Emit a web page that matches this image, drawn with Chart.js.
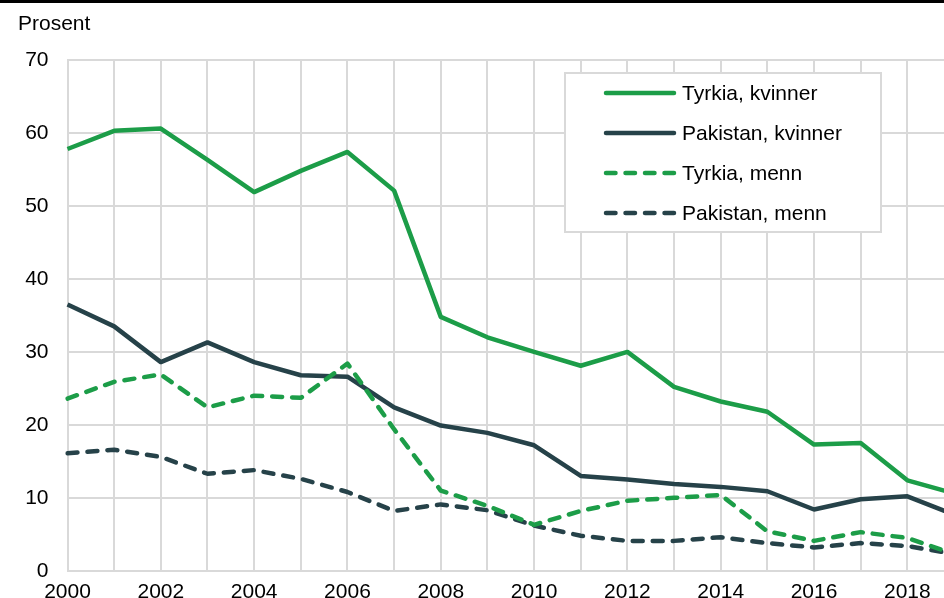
<!DOCTYPE html>
<html>
<head>
<meta charset="utf-8">
<script src="https://cdn.jsdelivr.net/npm/chart.js@4"></script>
<style>
  html, body { margin: 0; padding: 0; background: #fff; overflow: hidden; }
  #wrap { width: 964px; height: 614px; }
</style>
</head>
<body>
<div id="wrap"><canvas id="chart" width="964" height="614"></canvas></div>
<script>
// data
const years = ['2000','2001','2002','2003','2004','2005','2006','2007','2008','2009',
               '2010','2011','2012','2013','2014','2015','2016','2017','2018','2019'];
const tyrkiaKvinner = [57.8, 60.3, 60.6, 56.3, 51.9, 54.8, 57.4, 52.1, 34.8, 32.0,
                       30.0, 28.1, 30.0, 25.2, 23.2, 21.8, 17.3, 17.5, 12.4, 10.6];
const pakistanKvinner = [36.5, 33.5, 28.6, 31.3, 28.6, 26.8, 26.6, 22.4, 19.9, 18.9,
                         17.2, 13.0, 12.5, 11.9, 11.5, 10.9, 8.4, 9.8, 10.2, 7.7];
const tyrkiaMenn = [23.6, 25.9, 26.9, 22.4, 24.0, 23.7, 28.4, 19.4, 11.0, 8.9,
                    6.3, 8.2, 9.6, 10.0, 10.4, 5.4, 4.1, 5.3, 4.5, 2.3];
const pakistanMenn = [16.1, 16.6, 15.6, 13.3, 13.8, 12.6, 10.8, 8.2, 9.1, 8.3,
                      6.2, 4.8, 4.1, 4.1, 4.6, 3.8, 3.2, 3.8, 3.4, 2.3];
const yTicks = [0, 10, 20, 30, 40, 50, 60, 70];

const GREEN = '#1c9d48';
const DARK = '#264249';
const GRID = '#d9d9d9';
const FONT = "'Liberation Sans', Arial, sans-serif";
const DASH = [10, 10];

function line(label, data, color, dashed, order) {
  return {
    label, data, order,
    borderColor: color,
    backgroundColor: color,
    borderWidth: 4.5,
    borderDash: dashed ? DASH : [],
    borderCapStyle: dashed ? 'round' : 'butt',
    borderJoinStyle: 'round',
    pointRadius: 0,
    tension: 0,
    fill: false
  };
}

// legend box + title + top bar
const extras = {
  id: 'extras',
  afterDraw(chart) {
    const ctx = chart.ctx;
    ctx.save();
    ctx.fillStyle = '#000';
    ctx.fillRect(0, 0, chart.width, 3);

    ctx.font = '21px ' + FONT;
    ctx.textBaseline = 'alphabetic';
    ctx.textAlign = 'left';
    ctx.fillText('Prosent', 18, 30);

    // legend
    const bx = 565, by = 73, bw = 316, bh = 159;
    ctx.fillStyle = '#fff';
    ctx.fillRect(bx, by, bw, bh);
    ctx.strokeStyle = GRID;
    ctx.lineWidth = 2;
    ctx.strokeRect(bx, by, bw, bh);

    const rows = [93, 133, 173, 213];
    const ds = chart.data.datasets;
    ds.forEach((d, i) => {
      const y = rows[i];
      ctx.strokeStyle = d.borderColor;
      ctx.lineWidth = 4.5;
      ctx.lineCap = 'round';
      ctx.setLineDash(d.borderDash.length ? [9.5, 10] : []);
      ctx.beginPath();
      ctx.moveTo(606, y);
      ctx.lineTo(674, y);
      ctx.stroke();
      ctx.setLineDash([]);
      ctx.fillStyle = '#000';
      ctx.textBaseline = 'middle';
      ctx.fillText(d.label, 682, y + 1);
    });
    ctx.restore();
  }
};

new Chart(document.getElementById('chart'), {
  type: 'line',
  data: {
    labels: years,
    datasets: [
      line('Tyrkia, kvinner', tyrkiaKvinner, GREEN, false, 0),
      line('Pakistan, kvinner', pakistanKvinner, DARK, false, 2),
      line('Tyrkia, menn', tyrkiaMenn, GREEN, true, 1),
      line('Pakistan, menn', pakistanMenn, DARK, true, 3)
    ]
  },
  options: {
    responsive: false,
    animation: false,
    layout: { padding: { top: 60, left: 24, right: 10, bottom: 0 } },
    plugins: { legend: { display: false }, tooltip: { enabled: false } },
    scales: {
      x: {
        offset: false,
        grid: { color: GRID, lineWidth: 2, drawTicks: false },
        border: { color: GRID, width: 2 },
        ticks: {
          autoSkip: false, maxRotation: 0, padding: 9, color: '#000',
          font: { family: FONT, size: 21 },
          callback: (v, i) => (i % 2 === 0 ? years[i] : '')
        }
      },
      y: {
        min: 0, max: 70,
        afterBuildTicks: (axis) => { axis.ticks = yTicks.map(v => ({ value: v })); },
        afterFit: (axis) => { axis.width = 43.5; },
        grid: { color: GRID, lineWidth: 2, drawTicks: false },
        border: { color: GRID, width: 2 },
        ticks: { padding: 19, color: '#000', font: { family: FONT, size: 21 } }
      }
    }
  },
  plugins: [extras]
});
</script>
</body>
</html>
